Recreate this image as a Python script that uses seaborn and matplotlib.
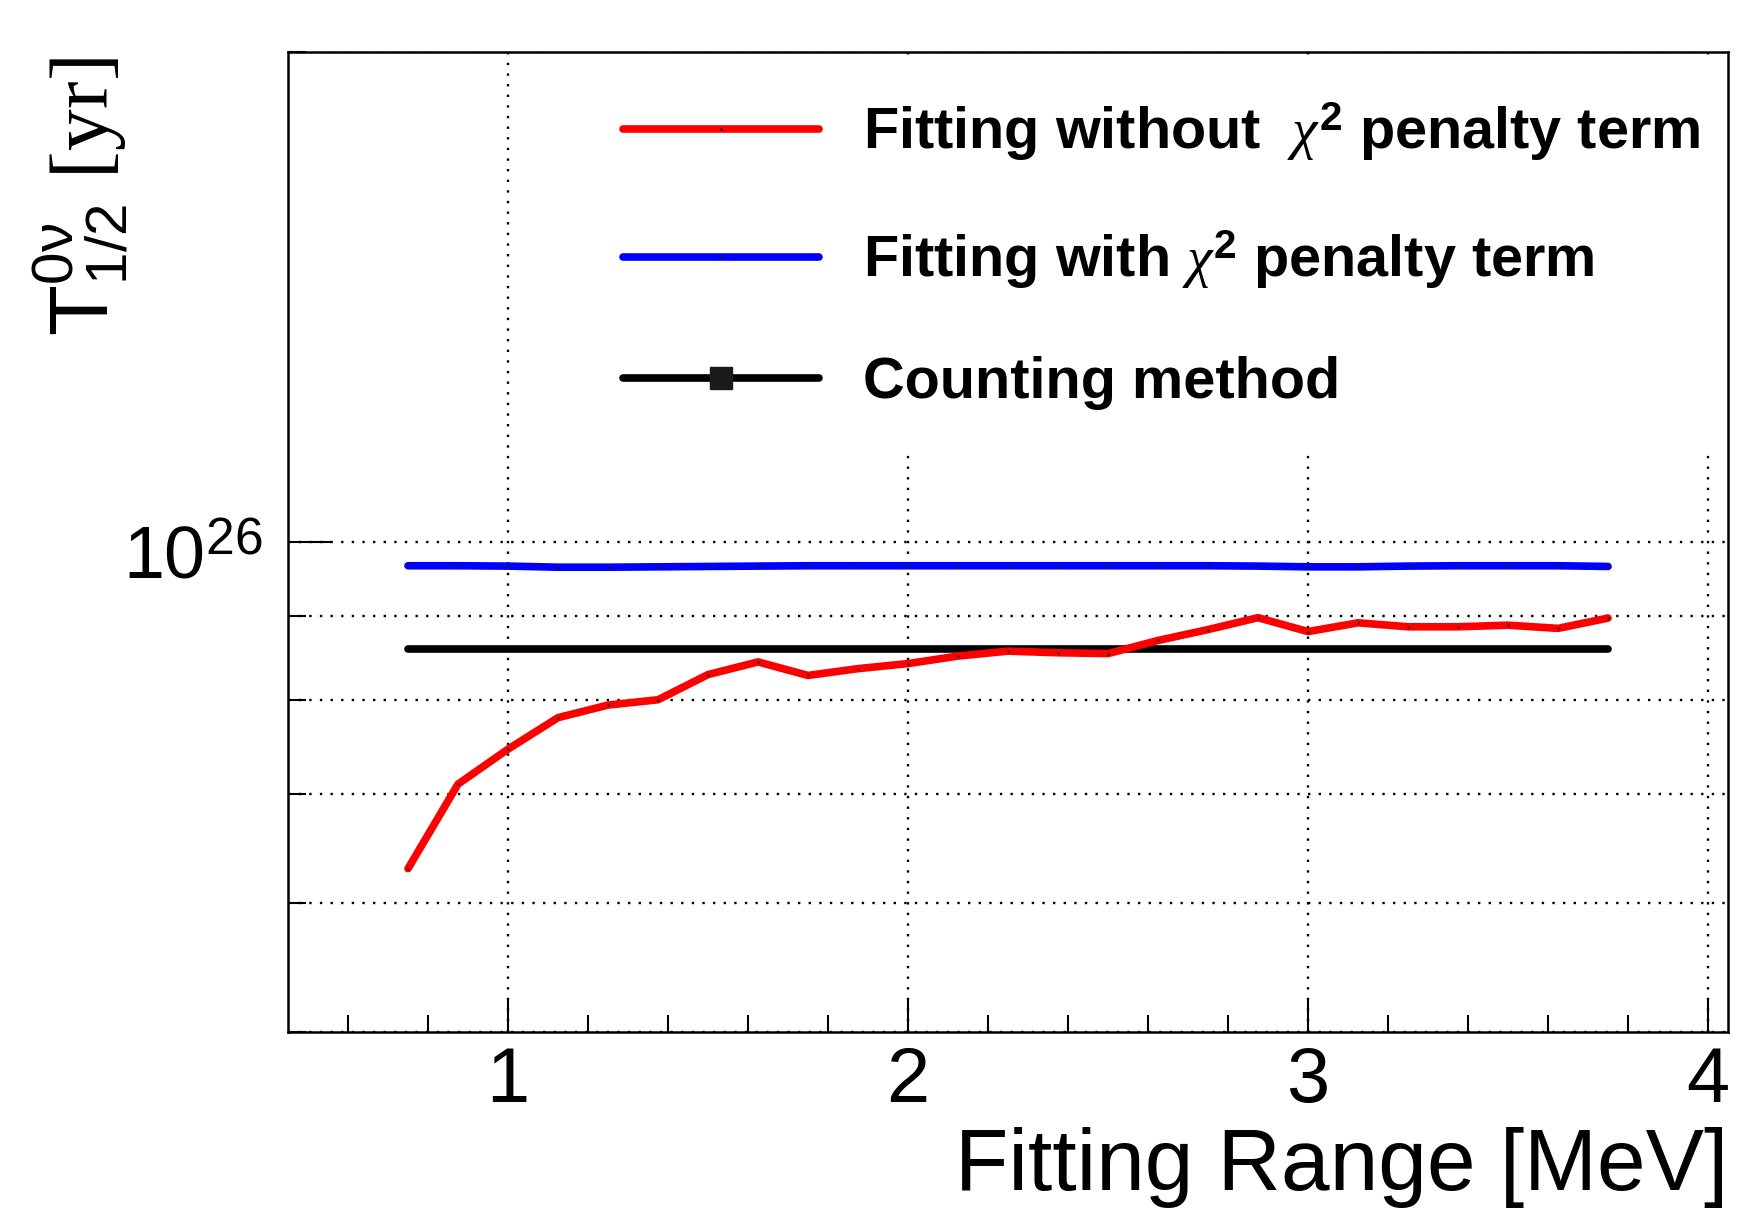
import matplotlib
matplotlib.use("Agg")
import matplotlib.pyplot as plt
import seaborn as sns
import pandas as pd
from matplotlib.lines import Line2D
from matplotlib.ticker import FixedLocator, FixedFormatter, NullFormatter, MultipleLocator
from matplotlib.font_manager import FontProperties
from matplotlib.transforms import ScaledTranslation

# ---------------- data ----------------
energy_mev = [0.75, 0.875, 1.0, 1.125, 1.25, 1.375, 1.5, 1.625, 1.75, 1.875,
              2.0, 2.125, 2.25, 2.375, 2.5, 2.625, 2.75, 2.875, 3.0, 3.125,
              3.25, 3.375, 3.5, 3.625, 3.75]
halflife_no_penalty = [6.30e25, 7.10e25, 7.46e25, 7.80e25, 7.94e25, 8.00e25, 8.29e25,
                       8.44e25, 8.28e25, 8.36e25, 8.42e25, 8.51e25, 8.57e25, 8.55e25,
                       8.54e25, 8.70e25, 8.835e25, 8.985e25, 8.81e25, 8.92e25, 8.87e25,
                       8.87e25, 8.89e25, 8.85e25, 8.98e25]
halflife_with_penalty = [9.67e25, 9.67e25, 9.665e25, 9.65e25, 9.65e25, 9.655e25, 9.66e25,
                         9.665e25, 9.67e25, 9.67e25, 9.67e25, 9.67e25, 9.67e25, 9.67e25,
                         9.67e25, 9.67e25, 9.67e25, 9.665e25, 9.655e25, 9.655e25, 9.665e25,
                         9.67e25, 9.67e25, 9.67e25, 9.66e25]
counting_range = [0.75, 3.75]
counting_halflife = [8.60e25, 8.60e25]

legend_labels = ["Fitting without  $\\chi^{\\mathbf{2}}$ penalty term",
                 "Fitting with $\\chi^{\\mathbf{2}}$ penalty term",
                 "Counting method"]
x_ticks = [1, 2, 3, 4]
x_tick_labels = ["1", "2", "3", "4"]
y_ticks = [1e26]
y_tick_labels = [r"$10^{26}$"]
y_minor = [5e25, 6e25, 7e25, 8e25, 9e25, 2e26]

df_fit = pd.DataFrame({"E": energy_mev, "no": halflife_no_penalty, "with": halflife_with_penalty})
df_cnt = pd.DataFrame({"E": counting_range, "T": counting_halflife})

# ---------------- style ----------------
sns.set_theme(style="ticks")
plt.rcParams["font.family"] = ["Liberation Sans", "DejaVu Sans"]
plt.rcParams["mathtext.fontset"] = "custom"
plt.rcParams["mathtext.rm"] = "Liberation Sans"
plt.rcParams["mathtext.it"] = "Liberation Serif:italic"
plt.rcParams["mathtext.bf"] = "Liberation Sans:bold"
plt.rcParams["mathtext.sf"] = "Liberation Serif"
for k in ["text.color", "axes.labelcolor", "xtick.color", "ytick.color", "axes.edgecolor"]:
    plt.rcParams[k] = "black"

fig = plt.figure(figsize=(17.39, 12.15), dpi=100)
ax = fig.add_axes([0.1656, 0.1506, 0.9937 - 0.1656, 0.9572 - 0.1506])
ax.set_yscale("log")

LW = 5.5
sns.lineplot(data=df_fit, x="E", y="with", ax=ax, color="#0000ff", lw=LW, legend=False,
             marker=".", markersize=2, mfc="k", mec="k", zorder=3)
sns.lineplot(data=df_cnt, x="E", y="T", ax=ax, color="black", lw=LW, legend=False, zorder=3)
sns.lineplot(data=df_fit, x="E", y="no", ax=ax, color="#ff0000", lw=LW, legend=False,
             marker=".", markersize=2, mfc="k", mec="k", zorder=4)

ax.set_xlim(0.45, 4.05)
ax.set_ylim(5e25, 2e26)

ax.xaxis.set_major_locator(FixedLocator(x_ticks))
ax.xaxis.set_major_formatter(FixedFormatter(x_tick_labels))
ax.xaxis.set_minor_locator(MultipleLocator(0.2))
ax.yaxis.set_major_locator(FixedLocator(y_ticks))
ax.yaxis.set_major_formatter(FixedFormatter(y_tick_labels))
ax.yaxis.set_minor_locator(FixedLocator(y_minor))
ax.yaxis.set_minor_formatter(NullFormatter())

gridkw = dict(color="black", linestyle=(0, (1, 3.5)), linewidth=1.7)
ax.grid(True, which="major", axis="x", **gridkw)
ax.grid(True, which="both", axis="y", **gridkw)

for s in ax.spines.values():
    s.set_color("black")
    s.set_linewidth(1.8)
    s.set_zorder(12)

ax.tick_params(axis="both", which="both", direction="in", colors="black",
               top=False, right=False, bottom=True, left=True, width=1.5)
ax.tick_params(axis="x", which="major", length=24, pad=9, labelsize=56)
ax.tick_params(axis="x", which="minor", length=12)
ax.tick_params(axis="y", which="major", length=31, pad=18, labelsize=53)
ax.tick_params(axis="y", which="minor", length=13)
for lab in ax.get_yticklabels():
    lab.set_transform(lab.get_transform() + ScaledTranslation(0, -9 / 100, fig.dpi_scale_trans))

ax.set_xlabel("Fitting Range [MeV]", fontsize=63, loc="right")
ax.xaxis.set_label_coords(1.0, -0.097)
ax.set_ylabel(r"$\mathrm{T}^{0\mathrm{\nu}}_{1/2}$ $\mathsf{[yr]}$", fontsize=60, loc="top")
ax.yaxis.set_label_coords(-0.11, 0.995)

handles = [
    Line2D([0], [0], color="#ff0000", lw=LW, marker=".", markersize=2, mfc="k", mec="k"),
    Line2D([0], [0], color="#0000ff", lw=LW, marker=".", markersize=2, mfc="k", mec="k"),
    Line2D([0], [0], color="black", lw=LW, marker="s", markersize=16, mfc="k", mec="k"),
]
leg = ax.legend(handles, legend_labels, loc="upper left", bbox_to_anchor=(0.2044, 0.992),
                frameon=True, facecolor="white", edgecolor="none", framealpha=1,
                fancybox=False, prop=FontProperties(family="Liberation Sans", weight="bold", size=41.5),
                handlelength=3.4, handletextpad=0.77, labelspacing=1.13,
                borderpad=0.7, borderaxespad=0, numpoints=1)
leg.set_zorder(10)

fig.savefig("out.png", dpi=100, facecolor="white")
